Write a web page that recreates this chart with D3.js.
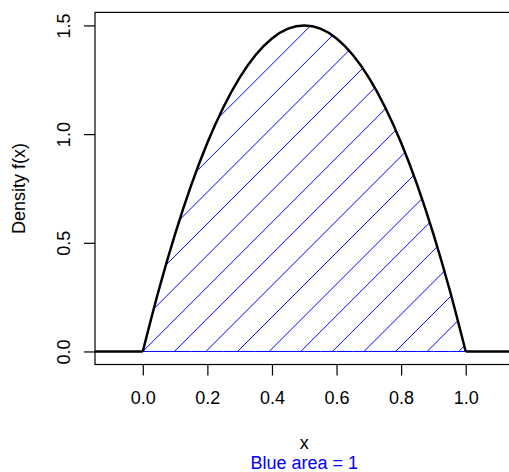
<!DOCTYPE html>
<html lang="en">
<head>
    <meta charset="UTF-8">
    <title>Density f(x)</title>
    <script src="https://d3js.org/d3.v7.min.js"></script>
    <style>
        body { margin: 0; background: #fff; }
        text { font-family: "Liberation Sans", Arial, Helvetica, sans-serif; }
    </style>
</head>
<body>
    <svg class="chart" width="509" height="472"></svg>

    <script>
    // density values (x from 0 to 1)
    const densX = [0, 0.05, 0.1, 0.15, 0.2, 0.25, 0.3, 0.35, 0.4, 0.45, 0.5,
                   0.55, 0.6, 0.65, 0.7, 0.75, 0.8, 0.85, 0.9, 0.95, 1]
    const densY = [0, 0.285, 0.54, 0.765, 0.96, 1.125, 1.26, 1.365, 1.44, 1.485, 1.5,
                   1.485, 1.44, 1.365, 1.26, 1.125, 0.96, 0.765, 0.54, 0.285, 0]
    // flat parts of the curve outside the support
    const leftX = [-0.2, 0]
    const rightX = [1, 1.2]

    const xTicks = [0, 0.2, 0.4, 0.6, 0.8, 1.0]
    const yTicks = [0, 0.5, 1.0, 1.5]
    const xLabel = 'x'
    const yLabel = 'Density f(x)'
    const subLabel = 'Blue area = 1'

    const svg = d3.select('.chart')

    // plot region (right edge falls just outside the picture)
    const pLeft = 95, pRight = 513.5, pTop = 12.4, pBottom = 364.5

    const x = d3.scaleLinear().domain([-0.148, 1.148]).range([pLeft, pRight])
    const y = d3.scaleLinear().domain([-0.06, 1.56]).range([pBottom, pTop])

    const pts = densX.map((d, i) => ({ x: d, y: densY[i] }))

    svg.append('clipPath').attr('id', 'plotclip')
        .append('rect')
        .attr('x', pLeft).attr('y', pTop)
        .attr('width', pRight - pLeft).attr('height', pBottom - pTop)

    // area under the curve
    const area = d3.area()
        .x(d => x(d.x))
        .y0(y(0))
        .y1(d => y(d.y))
        .curve(d3.curveMonotoneX)

    svg.append('clipPath').attr('id', 'areaclip')
        .append('path')
        .attr('d', area(pts))

    // hatching, 45 degree lines (x + y = c in screen space)
    const step = 31.6
    const c0 = x(0) + y(0)
    const cMin = pLeft + pTop
    const cMax = x(1) + y(0) + step
    let cStart = c0
    while (cStart - step > cMin) cStart -= step
    const hatch = svg.append('g').attr('clip-path', 'url(#areaclip)')
    for (let c = cStart; c < cMax; c += step) {
        hatch.append('line')
            .attr('x1', c - pBottom).attr('y1', pBottom)
            .attr('x2', c - pTop).attr('y2', pTop)
            .attr('stroke', '#0000ff')
            .attr('stroke-width', 1)
    }

    // polygon border
    svg.append('path')
        .attr('d', area(pts))
        .attr('fill', 'none')
        .attr('stroke', '#0000ff')
        .attr('stroke-width', 1)

    // density curve
    const line = d3.line()
        .x(d => x(d.x))
        .y(d => y(d.y))
        .curve(d3.curveMonotoneX)

    const curveG = svg.append('g').attr('clip-path', 'url(#plotclip)')
    const styleCurve = sel => sel
        .attr('fill', 'none')
        .attr('stroke', 'black')
        .attr('stroke-width', 2.5)
        .attr('stroke-linejoin', 'round')

    curveG.append('path').attr('d', line(pts)).call(styleCurve)
    curveG.append('path').attr('d', line(leftX.map(d => ({ x: d, y: 0 })))).call(styleCurve)
    curveG.append('path').attr('d', line(rightX.map(d => ({ x: d, y: 0 })))).call(styleCurve)

    // box
    svg.append('rect')
        .attr('x', pLeft).attr('y', pTop)
        .attr('width', pRight - pLeft).attr('height', pBottom - pTop)
        .attr('fill', 'none')
        .attr('stroke', 'black')
        .attr('stroke-width', 1.2)

    // axes
    const xAxis = d3.axisBottom(x)
        .tickValues(xTicks)
        .tickFormat(d3.format('.1f'))
        .tickSize(11)

    const gx = svg.append('g')
        .attr('transform', `translate(0,${pBottom})`)
        .call(xAxis)
    gx.select('.domain').remove()
    gx.selectAll('line').attr('stroke-width', 1.2)
    gx.selectAll('text')
        .attr('y', 39.8).attr('dy', 0)
        .attr('font-size', 18)
        .attr('font-family', '"Liberation Sans", Arial, sans-serif')
        .attr('fill', '#000')

    const yAxis = d3.axisLeft(y)
        .tickValues(yTicks)
        .tickFormat(d3.format('.1f'))
        .tickSize(11)

    const gy = svg.append('g')
        .attr('transform', `translate(${pLeft},0)`)
        .call(yAxis)
    gy.select('.domain').remove()
    gy.selectAll('line').attr('stroke-width', 1.2)
    gy.selectAll('text')
        .attr('x', 0).attr('y', 0).attr('dy', 0)
        .attr('text-anchor', 'middle')
        .attr('transform', 'translate(-25.5,0) rotate(-90)')
        .attr('font-size', 18)
        .attr('font-family', '"Liberation Sans", Arial, sans-serif')
        .attr('fill', '#000')

    // labels
    const midX = (pLeft + pRight) / 2
    svg.append('text')
        .attr('x', midX).attr('y', 449.3)
        .attr('text-anchor', 'middle')
        .attr('font-size', 18)
        .text(xLabel)

    svg.append('text')
        .attr('x', midX).attr('y', 469.3)
        .attr('text-anchor', 'middle')
        .attr('font-size', 18)
        .attr('fill', '#0000ff')
        .text(subLabel)

    svg.append('text')
        .attr('transform', `translate(25,${(pTop + pBottom) / 2}) rotate(-90)`)
        .attr('text-anchor', 'middle')
        .attr('font-size', 18)
        .text(yLabel)
    </script>
</body>
</html>
